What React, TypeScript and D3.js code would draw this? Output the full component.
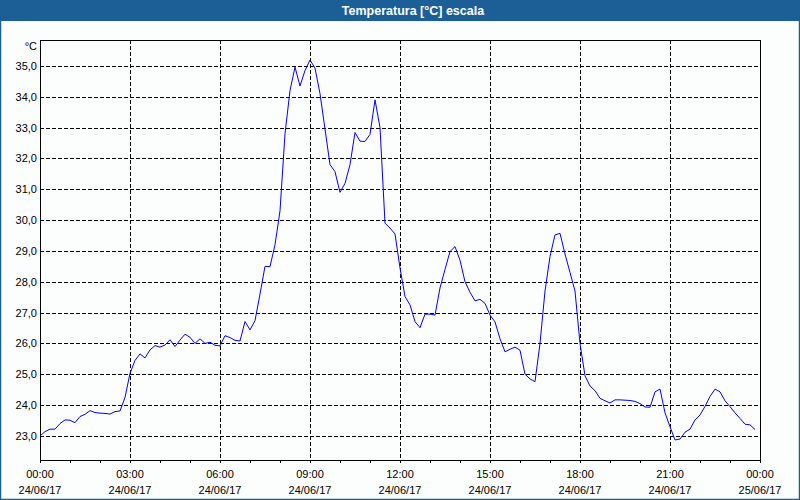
import React from "react";
import * as d3 from "d3";

// Temperature readings, one every 10 minutes from 00:00 to 23:50 on 24/06/17
const temps = [
  23.0, 23.14, 23.22, 23.22, 23.4, 23.52, 23.51, 23.43, 23.63, 23.7, 23.82, 23.76,
  23.74, 23.73, 23.71, 23.79, 23.81, 24.25, 25.03, 25.45, 25.66, 25.53, 25.79, 25.93,
  25.88, 25.95, 26.12, 25.9, 26.11, 26.3, 26.2, 26.0, 26.15, 26.0, 26.04, 25.94,
  25.92, 26.25, 26.19, 26.1, 26.08, 26.71, 26.44, 26.74, 27.6, 28.5, 28.49, 29.2,
  30.3, 32.8, 34.2, 34.96, 34.35, 34.85, 35.19, 34.93, 34.1, 32.95, 31.8, 31.57,
  30.9, 31.19, 31.8, 32.84, 32.56, 32.55, 32.78, 33.9, 33.0, 29.9, 29.74, 29.55,
  28.45, 27.52, 27.25, 26.71, 26.51, 26.95, 26.95, 26.92, 27.8, 28.4, 28.98, 29.14,
  28.7, 28.0, 27.66, 27.38, 27.43, 27.3, 26.92, 26.7, 26.15, 25.73, 25.81, 25.88,
  25.78, 25.0, 24.85, 24.76, 26.0, 27.7, 28.82, 29.52, 29.57, 28.9, 28.3, 27.7,
  26.0, 24.95, 24.62, 24.47, 24.22, 24.14, 24.07, 24.17, 24.17, 24.16, 24.15, 24.12,
  24.05, 23.94, 23.93, 24.43, 24.52, 23.75, 23.3, 22.87, 22.9, 23.12, 23.22, 23.52,
  23.68, 23.96, 24.28, 24.52, 24.43, 24.14, 23.95, 23.75, 23.57, 23.38, 23.36, 23.21,
];
const sampleMinutes = 10;

const yTicks = [23, 24, 25, 26, 27, 28, 29, 30, 31, 32, 33, 34, 35];
const xTickLabels = [
  ["00:00", "24/06/17"],
  ["03:00", "24/06/17"],
  ["06:00", "24/06/17"],
  ["09:00", "24/06/17"],
  ["12:00", "24/06/17"],
  ["15:00", "24/06/17"],
  ["18:00", "24/06/17"],
  ["21:00", "24/06/17"],
  ["00:00", "25/06/17"],
];

const title = "Temperatura [°C] escala";
const unit = "°C";

const W = 800;
const H = 500;
const margin = { top: 40, right: 40, bottom: 40, left: 40 };
const frameColor = "#1c5f96";
const font = "'Liberation Sans', Arial, sans-serif";

const start = new Date(2017, 5, 24, 0, 0);
const end = new Date(2017, 5, 25, 0, 0);

export default function App() {
  const x = d3
    .scaleTime()
    .domain([start, end])
    .range([margin.left, W - margin.right]);
  const y = d3
    .scaleLinear()
    .domain([22.22, 35.84])
    .range([H - margin.bottom, margin.top]);

  const points = temps.map((v, i) => ({
    t: d3.timeMinute.offset(start, i * sampleMinutes),
    v,
  }));

  const line = d3
    .line<{ t: Date; v: number }>()
    .x((d) => x(d.t))
    .y((d) => y(d.v));

  const majorTicks = x.ticks(d3.timeHour.every(3)!);
  const minorTicks = x.ticks(d3.timeHour.every(1)!);
  const fmt = d3.format(".1f");

  const left = margin.left;
  const right = W - margin.right;
  const top = margin.top;
  const bottom = H - margin.bottom;

  return (
    <div style={{ position: "fixed", left: 0, top: 0 }}>
      <svg width={W} height={H} style={{ display: "block" }}>
        <rect x={0} y={0} width={W} height={H} fill="#fcfdfd" />
        <rect x={0} y={0} width={W} height={21} fill={frameColor} />
        <rect
          x={0.5}
          y={0.5}
          width={W - 1}
          height={H - 1}
          fill="none"
          stroke={frameColor}
          strokeWidth={1.5}
        />
        <text
          x={413}
          y={14.5}
          textAnchor="middle"
          fill="#ffffff"
          fontFamily={font}
          fontWeight="bold"
          fontSize={12.5}
        >
          {title}
        </text>

        {/* grid */}
        <g stroke="#000" strokeWidth={1} strokeDasharray="4,2" shapeRendering="crispEdges">
          {yTicks.map((t) => (
            <line key={"h" + t} x1={left} x2={right} y1={Math.round(y(t)) + 0.5} y2={Math.round(y(t)) + 0.5} />
          ))}
          {majorTicks.slice(1, -1).map((t, i) => (
            <line key={"v" + i} x1={Math.round(x(t)) + 0.5} x2={Math.round(x(t)) + 0.5} y1={top} y2={bottom} />
          ))}
        </g>

        {/* data line */}
        <path
          d={line(points) || ""}
          fill="none"
          stroke="#0000ff"
          strokeWidth={1}
        />

        {/* frame */}
        <rect
          x={left + 0.5}
          y={top + 0.5}
          width={right - left}
          height={bottom - top}
          fill="none"
          stroke="#000"
          strokeWidth={1}
          shapeRendering="crispEdges"
        />

        {/* x ticks */}
        <g stroke="#000" shapeRendering="crispEdges">
          {minorTicks.map((t, i) => (
            <line key={"m" + i} x1={Math.round(x(t)) + 0.5} x2={Math.round(x(t)) + 0.5} y1={bottom} y2={bottom + 3} />
          ))}
        </g>
        <g fontFamily={font} fontSize={11} fill="#000" textAnchor="middle">
          {majorTicks.map((t, i) => (
            <g key={"xl" + i}>
              <text x={x(t)} y={478}>{xTickLabels[i][0]}</text>
              <text x={x(t)} y={494}>{xTickLabels[i][1]}</text>
            </g>
          ))}
        </g>

        {/* y labels */}
        <g fontFamily={font} fontSize={11} fill="#000" textAnchor="end">
          {yTicks.map((t) => (
            <text key={"yl" + t} x={37} y={y(t) + 4}>
              {fmt(t).replace(".", ",")}
            </text>
          ))}
          <text x={37} y={50}>{unit}</text>
        </g>
      </svg>
    </div>
  );
}
